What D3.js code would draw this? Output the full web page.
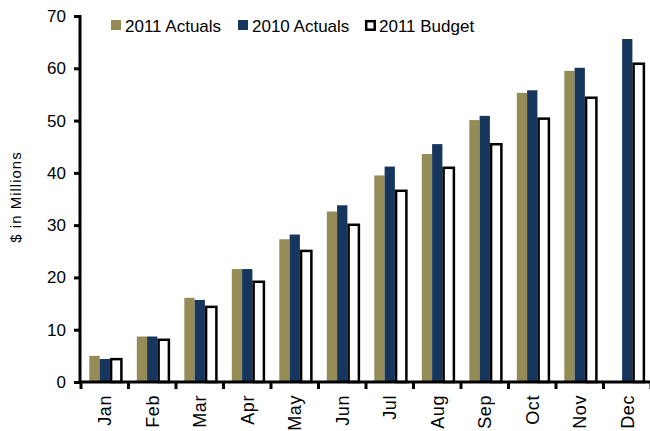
<!DOCTYPE html>
<html>
<head>
<meta charset="utf-8">
<script src="https://cdn.jsdelivr.net/npm/d3@7"></script>
<style>
  body { margin: 0; background: #fff; }
  text { font-family: "Liberation Sans", Arial, sans-serif; fill: #000; }
</style>
</head>
<body>
<div id="chart"></div>
<script>
// Data
const months = ["Jan", "Feb", "Mar", "Apr", "May", "Jun", "Jul", "Aug", "Sep", "Oct", "Nov", "Dec"];
const actuals2011 = [5.0, 8.7, 16.1, 21.6, 27.3, 32.6, 39.5, 43.6, 50.1, 55.3, 59.5, null];
const actuals2010 = [4.4, 8.7, 15.7, 21.6, 28.2, 33.8, 41.2, 45.5, 50.9, 55.8, 60.1, 65.6];
const budget2011 = [4.6, 8.3, 14.6, 19.4, 25.3, 30.3, 36.8, 41.2, 45.7, 50.6, 54.6, 61.1];
const yTicks = [0, 10, 20, 30, 40, 50, 60, 70];
const seriesNames = ["2011 Actuals", "2010 Actuals", "2011 Budget"];

const width = 650;
const height = 431;

const svg = d3.select("#chart")
    .append("svg")
    .attr("width", width)
    .attr("height", height);

// Scales
const x = d3.scaleBand()
    .domain(months)
    .range([81, 651])
    .paddingInner(0.35)
    .paddingOuter(0.175);

const sub = d3.scaleBand()
    .domain(seriesNames)
    .range([0, x.bandwidth()]);

const y = d3.scaleLinear()
    .domain([0, 70])
    .range([382, 16]);

const colors = { "2011 Actuals": "#958b57", "2010 Actuals": "#17365d" };

// Bars
const seriesData = [actuals2011, actuals2010, budget2011];
seriesNames.forEach((name, si) => {
    const vals = seriesData[si];
    const isBudget = name === "2011 Budget";
    svg.append("g")
        .selectAll("rect")
        .data(months.map((m, i) => ({ m, v: vals[i] })).filter(d => d.v != null))
        .enter()
        .append("rect")
        .attr("x", d => x(d.m) + sub(name) + (isBudget ? 1.2 : 0))
        .attr("y", d => y(d.v) + (isBudget ? 1.2 : 0))
        .attr("width", sub.bandwidth())
        .attr("height", d => y(0) - y(d.v) - (isBudget ? 1.2 : 0))
        .attr("fill", isBudget ? "#fff" : colors[name])
        .attr("stroke", isBudget ? "#000" : "none")
        .attr("stroke-width", isBudget ? 2.5 : 0);
});

// Y axis
const yAxis = svg.append("g")
    .attr("transform", "translate(80,0)")
    .call(d3.axisLeft(y).tickValues(yTicks).tickSize(6).tickPadding(8));
yAxis.select(".domain").attr("stroke-width", 3).attr("d", `M0,${y(70) - 1}V${y(0)}`);
yAxis.selectAll(".tick line").attr("stroke-width", 3);
yAxis.selectAll(".tick text")
    .attr("font-size", "17px")
    .attr("font-family", "'Liberation Sans', Arial, sans-serif");

// X axis (labels)
const xAxis = svg.append("g")
    .attr("transform", `translate(0,${y(0)})`)
    .call(d3.axisBottom(x).tickSize(0));
xAxis.select(".domain").remove();
xAxis.selectAll(".tick text")
    .attr("font-size", "18px")
    .attr("letter-spacing", "0.6px")
    .attr("font-family", "'Liberation Sans', Arial, sans-serif")
    .attr("transform", "rotate(-90)")
    .attr("text-anchor", "end")
    .attr("dy", "0.35em")
    .attr("x", -13)
    .attr("y", 0);

// X axis line and boundary ticks
svg.append("line")
    .attr("x1", 79).attr("x2", 651)
    .attr("y1", y(0)).attr("y2", y(0))
    .attr("stroke", "#000").attr("stroke-width", 3);
const bounds = d3.range(months.length + 1).map(i => x.range()[0] + i * x.step());
svg.append("g")
    .selectAll("line")
    .data(bounds)
    .enter()
    .append("line")
    .attr("x1", d => d).attr("x2", d => d)
    .attr("y1", y(0)).attr("y2", y(0) + 7)
    .attr("stroke", "#000").attr("stroke-width", 3);

// Y axis title
svg.append("text")
    .attr("transform", `translate(21,${(y(0) + y(70)) / 2 - 2}) rotate(-90)`)
    .attr("text-anchor", "middle")
    .attr("font-size", "15px")
    .attr("letter-spacing", "1px")
    .text("$ in Millions");

// Legend
const legendX = [111, 238, 365];
const legend = svg.append("g");
seriesNames.forEach((name, i) => {
    const g = legend.append("g").attr("transform", `translate(${legendX[i]},26)`);
    if (name === "2011 Budget") {
        g.append("rect")
            .attr("x", 1.2).attr("y", -4.8)
            .attr("width", 8.5).attr("height", 8.5)
            .attr("fill", "#fff").attr("stroke", "#000").attr("stroke-width", 2.5);
    } else {
        g.append("rect")
            .attr("x", 0).attr("y", -6)
            .attr("width", 10).attr("height", 10)
            .attr("fill", colors[name]);
    }
    g.append("text")
        .attr("x", 14)
        .attr("y", 6)
        .attr("font-size", "17px")
        .text(name);
});
</script>
</body>
</html>
